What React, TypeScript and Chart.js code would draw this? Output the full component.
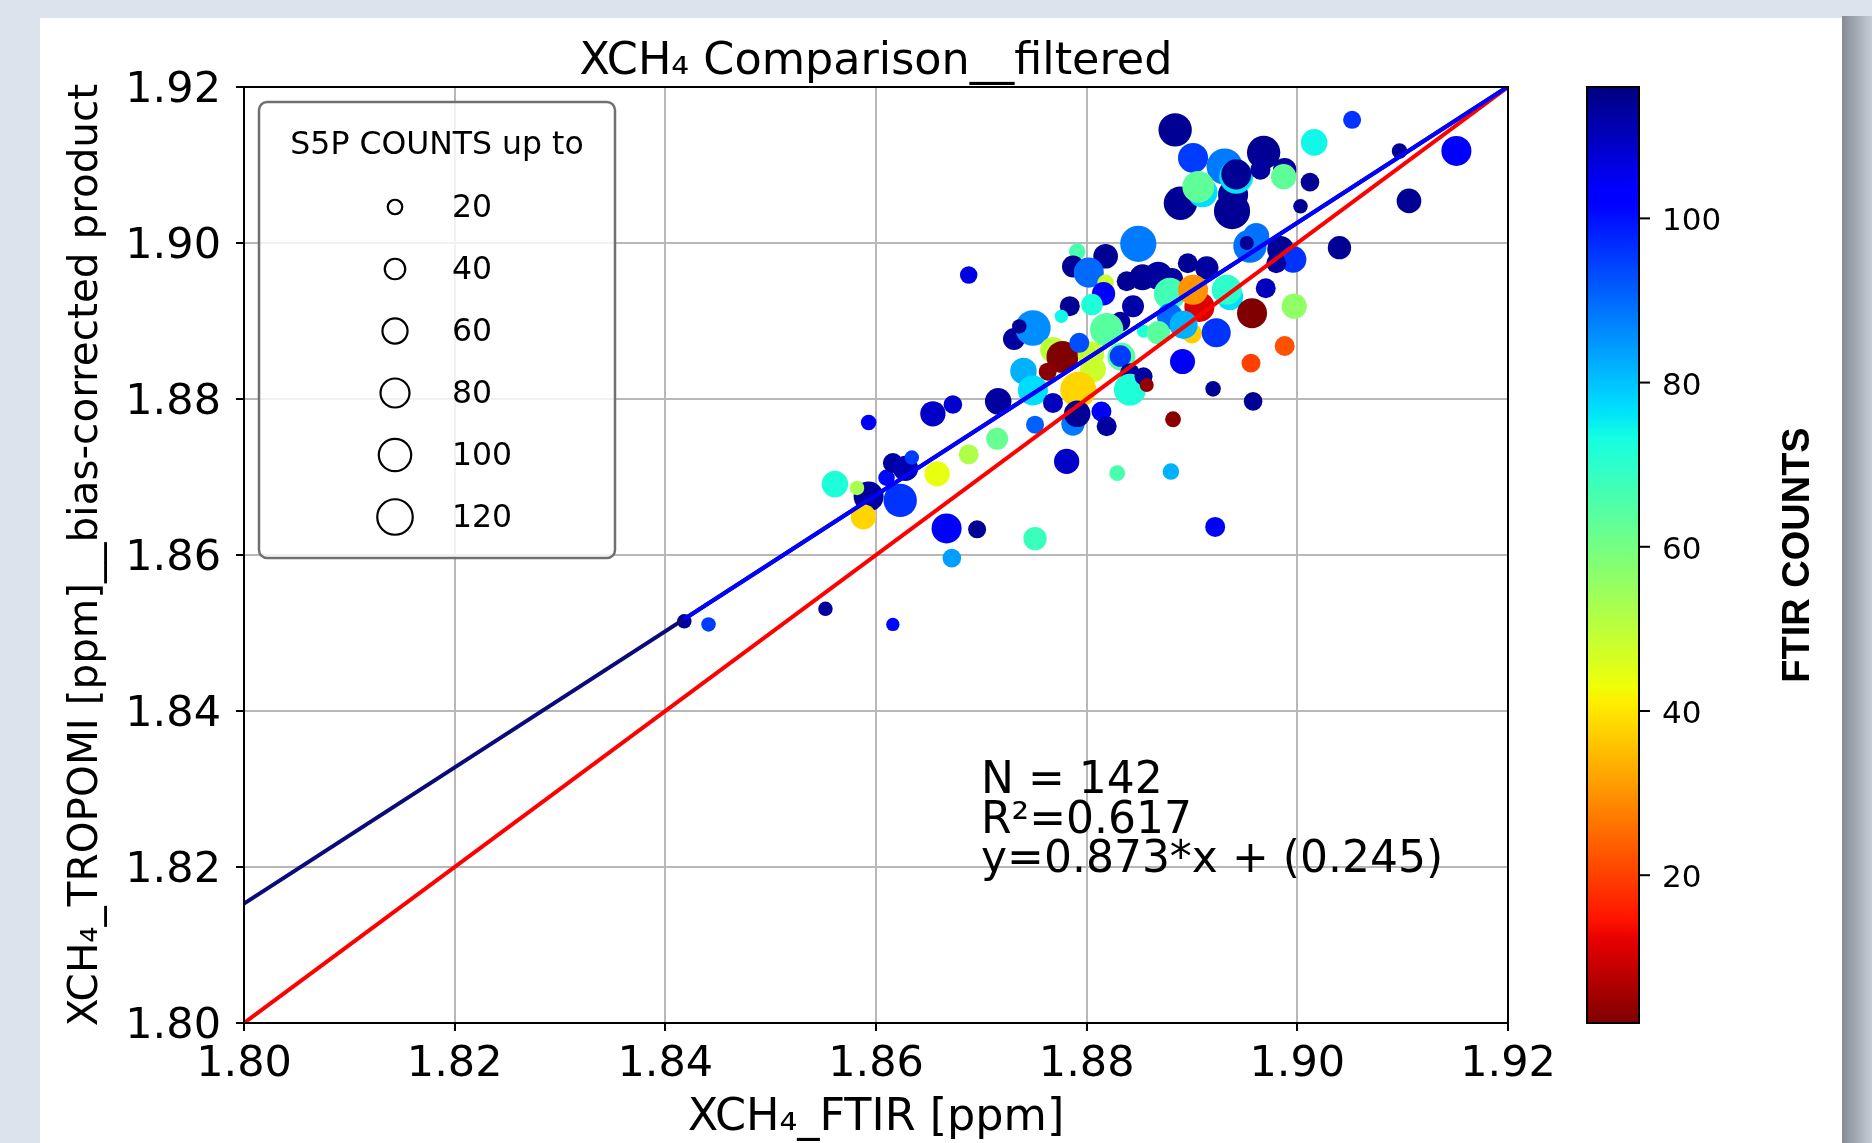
import React, { useEffect, useRef } from 'react';
import { Chart, registerables } from 'chart.js';

Chart.register(...registerables);

// ---------------- data ----------------
const ftirX: number[] = [
  1.8418, 1.8441, 1.8552, 1.8616, 1.8593, 1.8561, 1.8582, 1.8588, 1.8610, 1.8616,
  1.8628, 1.8634, 1.8623, 1.8658, 1.8688, 1.8715, 1.8593, 1.8654, 1.8673, 1.8716,
  1.8667, 1.8696, 1.8672, 1.8751, 1.8781, 1.8829, 1.8880, 1.8922, 1.8751, 1.8688,
  1.8849, 1.8791, 1.8818, 1.8787, 1.8802, 1.8818, 1.8816, 1.8838, 1.8784, 1.8805,
  1.8776, 1.8844, 1.8731, 1.8749, 1.8736, 1.8832, 1.8819, 1.8768, 1.8777, 1.8763,
  1.8804, 1.8793, 1.8833, 1.8832, 1.8740, 1.8749, 1.8806, 1.8792, 1.8768, 1.8787,
  1.8791, 1.8814, 1.8819, 1.8841, 1.8841, 1.8854, 1.8857, 1.8955, 1.8961, 1.8952,
  1.8984, 1.8996, 1.8980, 1.9040, 1.8853, 1.8868, 1.8881, 1.8896, 1.8914, 1.8936,
  1.8933, 1.8879, 1.8907, 1.8901, 1.8970, 1.8957, 1.8997, 1.8900, 1.8879, 1.8854,
  1.8868, 1.8892, 1.8923, 1.8891, 1.8988, 1.8956, 1.8920, 1.8958, 1.8882, 1.8884,
  1.8901, 1.8931, 1.8889, 1.8938, 1.8939, 1.8968, 1.8942, 1.8942, 1.8910, 1.8906,
  1.8965, 1.8988, 1.8987, 1.9012, 1.9003, 1.9016, 1.9052, 1.9097, 1.9151, 1.9106,
];
const tropomiY: number[] = [
  1.8515, 1.8511, 1.8531, 1.8511, 1.8675, 1.8691, 1.8686, 1.8649, 1.8699, 1.8718,
  1.8711, 1.8725, 1.8670, 1.8704, 1.8729, 1.8749, 1.8770, 1.8781, 1.8793, 1.8797,
  1.8634, 1.8633, 1.8596, 1.8621, 1.8720, 1.8705, 1.8707, 1.8636, 1.8767, 1.8959,
  1.8999, 1.8989, 1.8983, 1.8970, 1.8962, 1.8949, 1.8935, 1.8951, 1.8919, 1.8921,
  1.8906, 1.8919, 1.8877, 1.8891, 1.8893, 1.8899, 1.8889, 1.8863, 1.8854, 1.8835,
  1.8857, 1.8872, 1.8854, 1.8855, 1.8836, 1.8811, 1.8838, 1.8812, 1.8795, 1.8768,
  1.8781, 1.8784, 1.8765, 1.8833, 1.8812, 1.8829, 1.8818, 1.8996, 1.9009, 1.9000,
  1.8992, 1.8979, 1.8974, 1.8994, 1.8956, 1.8958, 1.8954, 1.8974, 1.8968, 1.8931,
  1.8940, 1.8935, 1.8918, 1.8940, 1.8942, 1.8910, 1.8919, 1.8884, 1.8906, 1.8887,
  1.8885, 1.8895, 1.8885, 1.8848, 1.8868, 1.8846, 1.8813, 1.8797, 1.8774, 1.9145,
  1.9109, 1.9098, 1.9051, 1.9041, 1.9062, 1.9116, 1.9085, 1.9088, 1.9065, 1.9072,
  1.9094, 1.9094, 1.9085, 1.9078, 1.9047, 1.9129, 1.9158, 1.9118, 1.9118, 1.9054,
];
const ftirCounts: number[] = [
  113, 95, 113, 101, 113, 72, 53, 38, 101, 113,
  111, 95, 96, 44, 52, 62, 104, 109, 108, 113,
  102, 114, 84, 68, 109, 66, 82, 102, 91, 106,
  88, 66, 114, 114, 90, 48, 102, 114, 114, 72,
  74, 112, 113, 86, 114, 113, 64, 50, 2, 3,
  49, 93, 64, 95, 82, 77, 48, 38, 110, 88,
  114, 102, 113, 113, 72, 113, 4, 89, 89, 114,
  114, 96, 113, 114, 114, 113, 113, 114, 113, 77,
  70, 67, 11, 30, 110, 2, 56, 37, 90, 72,
  64, 82, 96, 104, 22, 20, 114, 114, 3, 114,
  95, 88, 114, 114, 114, 114, 76, 114, 77, 63,
  113, 113, 63, 114, 114, 74, 96, 114, 102, 114,
];
const s5pCounts: number[] = [
  20, 20, 20, 17, 86, 67, 20, 61, 26, 38,
  61, 20, 106, 61, 38, 46, 23, 61, 33, 67,
  86, 31, 33, 52, 61, 24, 26, 38, 31, 29,
  125, 26, 58, 46, 86, 26, 52, 38, 38, 44,
  17, 46, 46, 120, 20, 38, 106, 64, 97, 31,
  67, 38, 75, 44, 67, 86, 64, 123, 38, 52,
  67, 38, 38, 38, 97, 31, 19, 106, 64, 19,
  67, 67, 38, 52, 64, 75, 46, 38, 52, 67,
  86, 97, 86, 86, 38, 86, 61, 38, 64, 17,
  52, 75, 80, 60, 38, 34, 23, 33, 24, 106,
  86, 125, 106, 125, 86, 106, 110, 86, 86, 97,
  38, 52, 61, 33, 20, 67, 31, 23, 86, 58,
];

const axisTicks: number[] = [1.8, 1.82, 1.84, 1.86, 1.88, 1.9, 1.92];
const legendSizes: number[] = [20, 40, 60, 80, 100, 120];
const colorbarTicks: number[] = [20, 40, 60, 80, 100];
const colorMin = 2;
const colorMax = 116;
const axisMin = 1.8;
const axisMax = 1.92;
// regression line as drawn in the picture
const fitSlope = 0.873;
const fitIntercept = 0.2439;
const statsText: string[] = ['N = 142', 'R²=0.617', 'y=0.873*x + (0.245)'];
const titleText = 'XCH₄ Comparison__filtered';
const xLabel = 'XCH₄_FTIR [ppm]';
const yLabel = 'XCH₄_TROPOMI [ppm]__bias-corrected product';
const legendTitle = 'S5P COUNTS up to';
const colorbarLabel = 'FTIR COUNTS';

// ---------------- helpers ----------------
const FONT = 'DejaVu Sans';
const JET: Record<string, number[][]> = {
  r: [[0, 0], [0.35, 0], [0.66, 1], [0.89, 1], [1, 0.5]],
  g: [[0, 0], [0.125, 0], [0.375, 1], [0.64, 1], [0.91, 0], [1, 0]],
  b: [[0, 0.5], [0.11, 1], [0.34, 1], [0.65, 0], [1, 0]],
};
function seg(pts: number[][], t: number): number {
  for (let i = 1; i < pts.length; i++) {
    if (t <= pts[i][0]) {
      const [x0, y0] = pts[i - 1];
      const [x1, y1] = pts[i];
      return y0 + ((y1 - y0) * (t - x0)) / (x1 - x0);
    }
  }
  return pts[pts.length - 1][1];
}
function jetR(value: number): string {
  let t = (value - colorMin) / (colorMax - colorMin);
  t = Math.min(1, Math.max(0, t));
  const v = 1 - t;
  const r = Math.round(seg(JET.r, v) * 255);
  const g = Math.round(seg(JET.g, v) * 255);
  const b = Math.round(seg(JET.b, v) * 255);
  return `rgb(${r},${g},${b})`;
}
const radiusFor = (s: number) => 1.62 * Math.sqrt(s);
const fit = (x: number) => fitSlope * x + fitIntercept;

const decorPlugin = {
  id: 'decor',
  beforeDraw(chart: any) {
    const ctx = chart.ctx as CanvasRenderingContext2D;
    const W = chart.width;
    const H = chart.height;
    ctx.save();
    ctx.fillStyle = '#dbe3ec';
    ctx.fillRect(0, 0, W, H);
    const g = ctx.createLinearGradient(1842, 0, 1872, 0);
    g.addColorStop(0, '#858b94');
    g.addColorStop(1, '#c4ccd6');
    ctx.fillStyle = g;
    ctx.fillRect(1842, 16, 30, H - 16);
    ctx.fillStyle = '#ffffff';
    ctx.fillRect(40, 18, 1802, H - 18);
    ctx.restore();
  },
  afterDraw(chart: any) {
    const ctx = chart.ctx as CanvasRenderingContext2D;
    const ca = chart.chartArea;
    const cb = chart.scales.cb;
    ctx.save();

    // frame (top/right spines)
    ctx.strokeStyle = '#000';
    ctx.lineWidth = 2;
    ctx.strokeRect(ca.left, ca.top, ca.right - ca.left, ca.bottom - ca.top);

    // title
    ctx.fillStyle = '#000';
    ctx.textAlign = 'center';
    ctx.textBaseline = 'middle';
    ctx.font = `44.5px "${FONT}"`;
    ctx.fillText(titleText, (ca.left + ca.right) / 2, ca.top - 25);

    // x label
    ctx.font = `44.5px "${FONT}"`;
    ctx.fillText(xLabel, (ca.left + ca.right) / 2, ca.bottom + 95);

    // y label
    ctx.save();
    ctx.translate(86, (ca.top + ca.bottom) / 2);
    ctx.rotate(-Math.PI / 2);
    ctx.font = `40.5px "${FONT}"`;
    ctx.fillText(yLabel, 0, 0);
    ctx.restore();

    // stats text
    ctx.textAlign = 'left';
    ctx.font = `44px "${FONT}"`;
    statsText.forEach((t, i) => {
      ctx.fillText(t, ca.left + 737, ca.top + 695 + i * 39.5);
    });

    // legend box
    const lx = ca.left + 15;
    const ly = ca.top + 15;
    const lw = 356;
    const lh = 456;
    ctx.beginPath();
    (ctx as any).roundRect(lx, ly, lw, lh, 8);
    ctx.fillStyle = 'rgba(255,255,255,0.8)';
    ctx.fill();
    ctx.strokeStyle = '#707070';
    ctx.lineWidth = 2.5;
    ctx.stroke();
    ctx.fillStyle = '#000';
    ctx.textAlign = 'center';
    ctx.font = `31.5px "${FONT}"`;
    ctx.fillText(legendTitle, lx + lw / 2, ly + 44);
    ctx.textAlign = 'left';
    legendSizes.forEach((s, i) => {
      const cy = ly + 105 + i * 62;
      ctx.beginPath();
      ctx.arc(lx + 136, cy, radiusFor(s), 0, Math.PI * 2);
      ctx.strokeStyle = '#000';
      ctx.lineWidth = 2.2;
      ctx.stroke();
      ctx.fillText(String(s), lx + 193, cy + 2);
    });

    // colorbar
    const bx = ca.right + 79;
    const bw = 52;
    const top = cb.getPixelForValue(colorMax);
    const bottom = cb.getPixelForValue(colorMin);
    for (let py = Math.floor(top); py < bottom; py++) {
      const v = cb.getValueForPixel(py + 0.5);
      ctx.fillStyle = jetR(v);
      ctx.fillRect(bx, py, bw, 1);
    }
    ctx.strokeStyle = '#000';
    ctx.lineWidth = 2;
    ctx.strokeRect(bx, top, bw, bottom - top);
    ctx.fillStyle = '#000';
    ctx.font = `31px "${FONT}"`;
    ctx.textAlign = 'left';
    colorbarTicks.forEach((v) => {
      const py = cb.getPixelForValue(v);
      ctx.beginPath();
      ctx.moveTo(bx + bw, py);
      ctx.lineTo(bx + bw + 11, py);
      ctx.stroke();
      ctx.fillText(String(v), bx + bw + 23, py + 4);
    });
    ctx.save();
    ctx.translate(ca.right + 291, (top + bottom) / 2);
    ctx.rotate(-Math.PI / 2);
    ctx.textAlign = 'center';
    ctx.font = `bold 38px "Liberation Sans"`;
    ctx.fillText(colorbarLabel, 0, 0);
    ctx.restore();

    ctx.restore();
  },
};

export default function App() {
  const ref = useRef<HTMLCanvasElement>(null);
  useEffect(() => {
    const canvas = ref.current;
    if (!canvas) return;
    Chart.defaults.font.family = FONT;
    const points = ftirX.map((x, i) => ({ x, y: tropomiY[i] }));
    const xDataMin = Math.min(...ftirX);
    const tickFont = { size: 43, family: FONT };
    const chart = new Chart(canvas, {
      type: 'scatter',
      data: {
        datasets: [
          {
            label: 'fit',
            data: [
              { x: xDataMin, y: fit(xDataMin) },
              { x: axisMax, y: fit(axisMax) },
            ],
            showLine: true,
            borderColor: '#0000ff',
            borderWidth: 4,
            pointRadius: 0,
            order: 0,
          } as any,
          {
            label: 'one-to-one',
            data: [
              { x: axisMin, y: axisMin },
              { x: axisMax, y: axisMax },
            ],
            showLine: true,
            borderColor: '#ff0000',
            borderWidth: 4,
            pointRadius: 0,
            order: 1,
          } as any,
          {
            label: 'fit-full',
            data: [
              { x: axisMin, y: fit(axisMin) },
              { x: axisMax, y: fit(axisMax) },
            ],
            showLine: true,
            borderColor: '#0a0a7a',
            borderWidth: 4,
            pointRadius: 0,
            order: 2,
          } as any,
          {
            label: 'points',
            data: points,
            backgroundColor: ftirCounts.map(jetR),
            pointRadius: s5pCounts.map(radiusFor),
            pointHoverRadius: s5pCounts.map(radiusFor),
            pointBorderWidth: 0,
            borderWidth: 0,
            order: 3,
          } as any,
        ],
      },
      options: {
        responsive: false,
        animation: false,
        devicePixelRatio: 1,
        events: [],
        layout: { padding: { left: 0, top: 87, right: 364, bottom: 0 } },
        plugins: { legend: { display: false }, tooltip: { enabled: false }, title: { display: false } },
        scales: {
          x: {
            type: 'linear',
            min: axisMin,
            max: axisMax,
            afterBuildTicks: (s: any) => {
              s.ticks = axisTicks.map((v) => ({ value: v }));
            },
            afterFit: (s: any) => {
              s.height = 120;
            },
            grid: { color: '#b8b8b8', lineWidth: 2, drawTicks: true, tickLength: 8, tickColor: '#000', tickWidth: 2 },
            border: { display: true, color: '#000', width: 2 },
            ticks: {
              color: '#000',
              font: tickFont,
              padding: 8,
              maxRotation: 0,
              minRotation: 0,
              autoSkip: false,
              callback: (v: any) => Number(v).toFixed(2),
            },
          },
          y: {
            type: 'linear',
            min: axisMin,
            max: axisMax,
            afterBuildTicks: (s: any) => {
              s.ticks = axisTicks.map((v) => ({ value: v }));
            },
            afterFit: (s: any) => {
              s.width = 244;
            },
            grid: { color: '#b8b8b8', lineWidth: 2, drawTicks: true, tickLength: 8, tickColor: '#000', tickWidth: 2 },
            border: { display: true, color: '#000', width: 2 },
            ticks: {
              color: '#000',
              font: tickFont,
              padding: 15,
              labelOffset: 4,
              autoSkip: false,
              callback: (v: any) => Number(v).toFixed(2),
            },
          },
          cb: {
            type: 'linear',
            axis: 'y',
            position: 'right',
            min: colorMin,
            max: colorMax,
            display: false,
          },
        },
      } as any,
      plugins: [decorPlugin],
    });
    return () => chart.destroy();
  }, []);
  return (
    <canvas
      ref={ref}
      width={1872}
      height={1143}
      style={{ position: 'fixed', left: 0, top: 0, width: 1872, height: 1143, display: 'block' }}
    />
  );
}
